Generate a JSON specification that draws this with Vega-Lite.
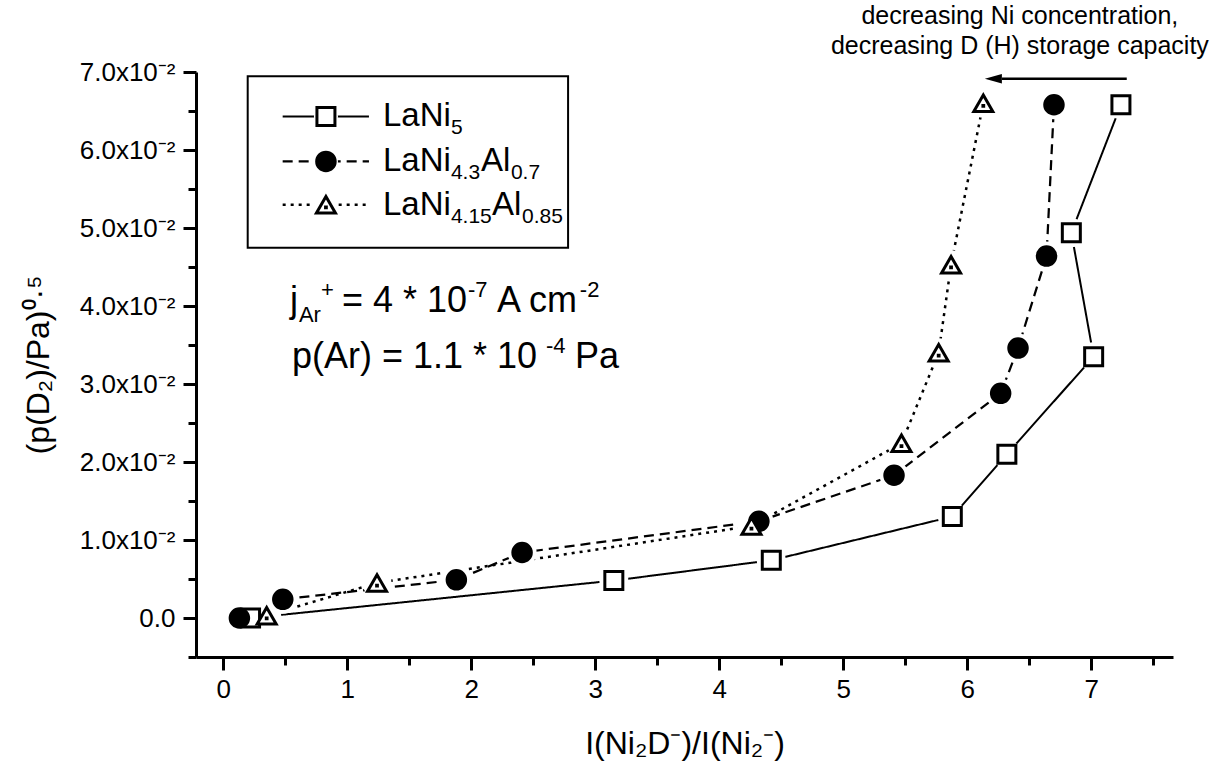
{
  "$schema": "https://vega.github.io/schema/vega-lite/v6.json",
  "width": 977,
  "height": 585,
  "autosize": {"type": "none"},
  "padding": {"left": 196, "top": 72, "right": 54, "bottom": 123},
  "background": "white",
  "config": {
    "font": "Liberation Sans",
    "view": {"stroke": null}
  },
  "datasets": {
    "pts": [
      {"series": "LaNi5", "order": 1, "x": 0.22, "y": 0.0},
      {"series": "LaNi5", "order": 2, "x": 3.15, "y": 0.0048},
      {"series": "LaNi5", "order": 3, "x": 4.42, "y": 0.0074},
      {"series": "LaNi5", "order": 4, "x": 5.88, "y": 0.013},
      {"series": "LaNi5", "order": 5, "x": 6.32, "y": 0.021},
      {"series": "LaNi5", "order": 6, "x": 7.02, "y": 0.0335},
      {"series": "LaNi5", "order": 7, "x": 6.84, "y": 0.0494},
      {"series": "LaNi5", "order": 8, "x": 7.24, "y": 0.0658},
      {"series": "LaNi4.3Al0.7", "order": 1, "x": 0.13, "y": 0.0},
      {"series": "LaNi4.3Al0.7", "order": 2, "x": 0.48, "y": 0.0024},
      {"series": "LaNi4.3Al0.7", "order": 3, "x": 1.88, "y": 0.0049},
      {"series": "LaNi4.3Al0.7", "order": 4, "x": 2.41, "y": 0.0084},
      {"series": "LaNi4.3Al0.7", "order": 5, "x": 4.32, "y": 0.0124},
      {"series": "LaNi4.3Al0.7", "order": 6, "x": 5.41, "y": 0.0183},
      {"series": "LaNi4.3Al0.7", "order": 7, "x": 6.27, "y": 0.0288},
      {"series": "LaNi4.3Al0.7", "order": 8, "x": 6.41, "y": 0.0346},
      {"series": "LaNi4.3Al0.7", "order": 9, "x": 6.64, "y": 0.0464},
      {"series": "LaNi4.3Al0.7", "order": 10, "x": 6.7, "y": 0.0658},
      {"series": "LaNi4.15Al0.85", "order": 1, "x": 0.35, "y": 0.0003},
      {"series": "LaNi4.15Al0.85", "order": 2, "x": 1.24, "y": 0.0045},
      {"series": "LaNi4.15Al0.85", "order": 3, "x": 4.26, "y": 0.0118},
      {"series": "LaNi4.15Al0.85", "order": 4, "x": 5.47, "y": 0.0224},
      {"series": "LaNi4.15Al0.85", "order": 5, "x": 5.77, "y": 0.034},
      {"series": "LaNi4.15Al0.85", "order": 6, "x": 5.87, "y": 0.0453},
      {"series": "LaNi4.15Al0.85", "order": 7, "x": 6.13, "y": 0.066}
    ],
    "leg_box": [
      {"x": 0.197, "x2": 2.781, "y": 0.06944, "y2": 0.04747}
    ],
    "leg_lines": [
      {"series": "LaNi5", "x": 0.479, "x2": 1.175, "y": 0.06431},
      {"series": "LaNi4.3Al0.7", "x": 0.479, "x2": 1.175, "y": 0.05854},
      {"series": "LaNi4.15Al0.85", "x": 0.479, "x2": 1.175, "y": 0.05299}
    ],
    "leg_syms": [
      {"series": "LaNi5", "x": 0.828, "y": 0.06431},
      {"series": "LaNi4.3Al0.7", "x": 0.828, "y": 0.05854},
      {"series": "LaNi4.15Al0.85", "x": 0.828, "y": 0.05299}
    ],
    "leg_main": [
      {"t": "LaNi", "x": 1.288, "y": 0.06303},
      {"t": "LaNi", "x": 1.288, "y": 0.05726},
      {"t": "Al", "x": 2.078, "y": 0.05726},
      {"t": "LaNi", "x": 1.288, "y": 0.05171},
      {"t": "Al", "x": 2.167, "y": 0.05171}
    ],
    "leg_sub": [
      {"t": "5", "x": 1.836, "y": 0.06303},
      {"t": "4.3", "x": 1.836, "y": 0.05726},
      {"t": "0.7", "x": 2.32, "y": 0.05726},
      {"t": "4.15", "x": 1.836, "y": 0.05171},
      {"t": "0.85", "x": 2.409, "y": 0.05171}
    ],
    "notes_main": [
      {"t": "j", "x": 0.538, "y": 0.03927},
      {"t": "= 4 * 10", "x": 0.957, "y": 0.03927},
      {"t": "A cm", "x": 2.207, "y": 0.03927},
      {"t": "p(Ar) = 1.1 * 10", "x": 0.554, "y": 0.03209},
      {"t": "Pa", "x": 2.836, "y": 0.03209}
    ],
    "notes_sub": [
      {"t": "Ar", "x": 0.61, "y": 0.03927}
    ],
    "notes_sup": [
      {"t": "+", "x": 0.788, "y": 0.03927},
      {"t": "-7", "x": 1.973, "y": 0.03927},
      {"t": "-2", "x": 2.876, "y": 0.03927},
      {"t": "-4", "x": 2.602, "y": 0.03209}
    ],
    "notes_top": [
      {"t": "decreasing Ni concentration,", "x": 6.425, "y": 0.07619},
      {"t": "decreasing D (H) storage capacity", "x": 6.425, "y": 0.07234}
    ],
    "arrow_line": [
      {"x": 6.28, "x2": 7.287, "y": 0.06914}
    ],
    "arrow_head": [
      {"x": 6.211, "y": 0.06914}
    ]
  },
  "encoding": {
    "x": {
      "field": "x",
      "type": "quantitative",
      "scale": {"domain": [-0.22, 7.66], "nice": false, "zero": false},
      "axis": {
        "title": "I(Ni₂D⁻)/I(Ni₂⁻)",
        "values": [0, 0.5, 1, 1.5, 2, 2.5, 3, 3.5, 4, 4.5, 5, 5.5, 6, 6.5, 7, 7.5],
        "labelExpr": "datum.value % 1 === 0 ? format(datum.value, 'd') : ''",
        "grid": false,
        "domainColor": "black",
        "domainWidth": 3,
        "tickColor": "black",
        "tickWidth": 3,
        "tickSize": {"condition": {"test": "datum.value % 1 === 0", "value": 13}, "value": 8},
        "labelFontSize": 26,
        "labelColor": "black",
        "labelPadding": 6,
        "labelFlush": false,
        "labelOverlap": false,
        "titleFontSize": 32,
        "titleFontWeight": "normal",
        "titleColor": "black",
        "titlePadding": 26
      }
    },
    "y": {
      "field": "y",
      "type": "quantitative",
      "scale": {"domain": [-0.005, 0.07], "nice": false, "zero": false},
      "axis": {
        "title": "(p(D₂)/Pa)⁰·⁵",
        "values": [-0.005, 0, 0.005, 0.01, 0.015, 0.02, 0.025, 0.03, 0.035, 0.04, 0.045, 0.05, 0.055, 0.06, 0.065, 0.07],
        "labelExpr": "datum.value === 0 ? '0.0' : (abs(round(datum.value * 1000)) % 10 === 0 ? format(datum.value * 100, '.1f') + 'x10⁻²' : '')",
        "grid": false,
        "domainColor": "black",
        "domainWidth": 3,
        "tickColor": "black",
        "tickWidth": 3,
        "tickSize": {"condition": {"test": "abs(round(datum.value * 1000)) % 10 === 0", "value": 13}, "value": 8},
        "labelFontSize": 26,
        "labelColor": "black",
        "labelPadding": 8,
        "labelFlush": false,
        "labelOverlap": false,
        "titleFontSize": 32,
        "titleFontWeight": "normal",
        "titleColor": "black",
        "titlePadding": 24
      }
    }
  },
  "layer": [
    {
      "data": {"name": "pts"},
      "mark": {"type": "line", "color": "black"},
      "encoding": {
        "order": {"field": "order", "type": "quantitative"},
        "detail": {"field": "series"},
        "strokeDash": {
          "field": "series", "type": "nominal",
          "scale": {"domain": ["LaNi5", "LaNi4.3Al0.7", "LaNi4.15Al0.85"], "range": [[1, 0], [10, 6], [3, 5]]},
          "legend": null
        },
        "strokeWidth": {
          "field": "series", "type": "ordinal",
          "scale": {"domain": ["LaNi5", "LaNi4.3Al0.7", "LaNi4.15Al0.85"], "range": [2, 2.5, 3]},
          "legend": null
        }
      }
    },
    {
      "data": {"name": "pts"},
      "mark": {"type": "point", "shape": "circle", "size": 841, "filled": true, "color": "white", "opacity": 1}
    },
    {
      "data": {"name": "pts"},
      "mark": {"type": "point", "stroke": "black", "strokeWidth": 3, "opacity": 1},
      "encoding": {
        "shape": {
          "field": "series", "type": "nominal",
          "scale": {"domain": ["LaNi5", "LaNi4.3Al0.7", "LaNi4.15Al0.85"], "range": ["square", "circle", "M0,-0.866L1,0.866L-1,0.866Z M-0.04,0.25L0.04,0.25L0.04,0.33L-0.04,0.33Z"]},
          "legend": null
        },
        "fill": {
          "field": "series", "type": "nominal",
          "scale": {"domain": ["LaNi5", "LaNi4.3Al0.7", "LaNi4.15Al0.85"], "range": ["white", "black", "white"]},
          "legend": null
        },
        "size": {
          "field": "series", "type": "ordinal",
          "scale": {"domain": ["LaNi5", "LaNi4.3Al0.7", "LaNi4.15Al0.85"], "range": [324, 361, 729]},
          "legend": null
        }
      }
    },
    {
      "data": {"name": "leg_box"},
      "mark": {"type": "rect", "fill": "white", "stroke": "black", "strokeWidth": 2},
      "encoding": {"x2": {"field": "x2"}, "y2": {"field": "y2"}}
    },
    {
      "data": {"name": "leg_lines"},
      "mark": {"type": "rule", "color": "black"},
      "encoding": {
        "x2": {"field": "x2"},
        "strokeDash": {"field": "series", "type": "nominal", "legend": null},
        "strokeWidth": {"field": "series", "type": "ordinal", "legend": null}
      }
    },
    {
      "data": {"name": "leg_syms"},
      "mark": {"type": "point", "shape": "circle", "size": 576, "filled": true, "color": "white", "opacity": 1}
    },
    {
      "data": {"name": "leg_syms"},
      "mark": {"type": "point", "stroke": "black", "strokeWidth": 3, "opacity": 1},
      "encoding": {
        "shape": {"field": "series", "type": "nominal", "legend": null},
        "fill": {"field": "series", "type": "nominal", "legend": null},
        "size": {"field": "series", "type": "ordinal", "legend": null}
      }
    },
    {
      "data": {"name": "leg_main"},
      "mark": {"type": "text", "align": "left", "baseline": "alphabetic", "fontSize": 33, "color": "black"},
      "encoding": {"text": {"field": "t"}}
    },
    {
      "data": {"name": "leg_sub"},
      "mark": {"type": "text", "align": "left", "baseline": "alphabetic", "fontSize": 21, "dy": 8, "color": "black"},
      "encoding": {"text": {"field": "t"}}
    },
    {
      "data": {"name": "notes_main"},
      "mark": {"type": "text", "align": "left", "baseline": "alphabetic", "fontSize": 36, "color": "black"},
      "encoding": {"text": {"field": "t"}}
    },
    {
      "data": {"name": "notes_sub"},
      "mark": {"type": "text", "align": "left", "baseline": "alphabetic", "fontSize": 22, "dy": 10, "color": "black"},
      "encoding": {"text": {"field": "t"}}
    },
    {
      "data": {"name": "notes_sup"},
      "mark": {"type": "text", "align": "left", "baseline": "alphabetic", "fontSize": 22, "dy": -15, "color": "black"},
      "encoding": {"text": {"field": "t"}}
    },
    {
      "data": {"name": "notes_top"},
      "mark": {"type": "text", "align": "center", "baseline": "alphabetic", "fontSize": 25, "color": "black"},
      "encoding": {"text": {"field": "t"}}
    },
    {
      "data": {"name": "arrow_line"},
      "mark": {"type": "rule", "color": "black", "strokeWidth": 2.5},
      "encoding": {"x2": {"field": "x2"}}
    },
    {
      "data": {"name": "arrow_head"},
      "mark": {"type": "point", "shape": "M-1,0L1,-0.55L1,0.55Z", "size": 289, "filled": true, "color": "black", "opacity": 1}
    }
  ]
}
